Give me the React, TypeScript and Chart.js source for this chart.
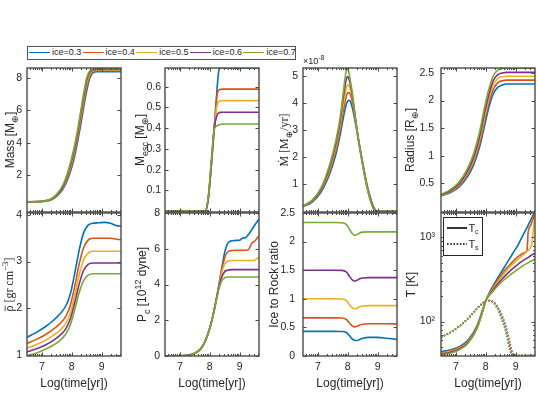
import React, { useEffect, useRef } from 'react';
import { Chart, registerables } from 'chart.js';

Chart.register(...registerables);

const SANS = "'Liberation Sans', Arial, Helvetica, sans-serif";
const SERIF = "'Liberation Serif', 'DejaVu Serif', 'Times New Roman', serif";
const INK = '#262626';
const AXIS = '#4a4a4a';
const COLORS = ['#0072BD', '#D95319', '#EDB120', '#7E2F8E', '#77AC30'];
const ICE_LABELS = ['ice=0.3', 'ice=0.4', 'ice=0.5', 'ice=0.6', 'ice=0.7'];
const LOGT_TICKS = [7, 8, 9];
const LOGT_TICK_LABELS = ['7', '8', '9'];
const LOGT_MIN = 6.5;
const LOGT_MAX = 9.65;

// ---- Mass [M_earth]
const MASS_X = [6.5, 7.0, 7.3, 7.5, 7.7, 7.85, 8.0, 8.1, 8.2, 8.3, 8.4, 8.5, 8.6, 8.7, 8.85, 9.65];
const MASS_03 = [0.35, 0.39, 0.49, 0.72, 1.15, 1.7, 2.5, 3.2, 4.1, 5.1, 6.2, 7.2, 7.95, 8.3, 8.38, 8.38];
const MASS_04 = [0.36, 0.4, 0.5, 0.75, 1.2, 1.8, 2.65, 3.4, 4.3, 5.35, 6.45, 7.45, 8.1, 8.37, 8.43, 8.43];
const MASS_05 = [0.37, 0.4, 0.52, 0.78, 1.25, 1.9, 2.8, 3.55, 4.5, 5.55, 6.65, 7.65, 8.22, 8.42, 8.47, 8.47];
const MASS_06 = [0.37, 0.41, 0.53, 0.8, 1.3, 2.0, 2.95, 3.7, 4.65, 5.75, 6.85, 7.85, 8.33, 8.47, 8.51, 8.51];
const MASS_07 = [0.38, 0.42, 0.55, 0.85, 1.4, 2.1, 3.1, 3.9, 4.85, 5.95, 7.05, 8.0, 8.42, 8.52, 8.55, 8.55];
const MASS_TICKS = [2, 4, 6, 8];

// ---- M_esc [M_earth]
const MESC_X = [6.5, 7.5, 7.85, 7.95, 8.05, 8.15, 8.25, 8.3, 8.35, 8.45, 9.65];
const MESC_03 = [0, 0, 0, 0.06, 0.22, 0.4, 0.6, 0.675, 0.69, 0.69, 0.69];
const MESC_04 = [0, 0, 0, 0.06, 0.22, 0.4, 0.565, 0.582, 0.587, 0.588, 0.588];
const MESC_05 = [0, 0, 0, 0.06, 0.22, 0.4, 0.515, 0.528, 0.532, 0.533, 0.533];
const MESC_06 = [0, 0, 0, 0.06, 0.22, 0.4, 0.465, 0.473, 0.476, 0.477, 0.477];
const MESC_07 = [0, 0, 0, 0.07, 0.24, 0.395, 0.412, 0.416, 0.418, 0.42, 0.42];
const MESC_TICKS = [0.1, 0.2, 0.3, 0.4, 0.5, 0.6];

// ---- Mdot [1e-8 M_earth / yr]
const MDOT_X = [6.5, 6.8, 7.1, 7.4, 7.6, 7.75, 7.85, 7.95, 8.0, 8.05, 8.15, 8.25, 8.35, 8.5, 8.65, 8.8, 8.9, 9.0, 9.65];
const MDOT_03 = [0.17, 0.33, 0.7, 1.4, 2.1, 2.85, 3.45, 3.95, 4.08, 4.1, 3.85, 3.3, 2.7, 1.8, 0.95, 0.35, 0.08, 0, 0];
const MDOT_04 = [0.18, 0.35, 0.75, 1.5, 2.25, 3.05, 3.7, 4.25, 4.38, 4.38, 4.05, 3.4, 2.7, 1.77, 0.92, 0.32, 0.06, 0, 0];
const MDOT_05 = [0.19, 0.37, 0.78, 1.58, 2.38, 3.22, 3.95, 4.55, 4.68, 4.62, 4.2, 3.45, 2.7, 1.75, 0.9, 0.3, 0.05, 0, 0];
const MDOT_06 = [0.19, 0.38, 0.8, 1.66, 2.5, 3.38, 4.2, 4.88, 4.98, 4.85, 4.3, 3.5, 2.7, 1.72, 0.87, 0.28, 0.04, 0, 0];
const MDOT_07 = [0.2, 0.4, 0.85, 1.75, 2.6, 3.5, 4.4, 5.2, 5.27, 5.05, 4.4, 3.5, 2.7, 1.7, 0.85, 0.25, 0.02, 0, 0];
const MDOT_TICKS = [1, 2, 3, 4, 5];

// ---- Radius [R_earth]
const RAD_X = [6.5, 6.8, 7.1, 7.4, 7.6, 7.8, 7.95, 8.1, 8.25, 8.4, 8.55, 8.7, 8.85, 9.0, 9.65];
const RAD_03 = [0.27, 0.33, 0.43, 0.63, 0.84, 1.17, 1.52, 1.87, 2.12, 2.24, 2.28, 2.3, 2.3, 2.3, 2.3];
const RAD_04 = [0.28, 0.34, 0.45, 0.67, 0.89, 1.24, 1.6, 1.95, 2.2, 2.32, 2.36, 2.37, 2.37, 2.37, 2.37];
const RAD_05 = [0.28, 0.35, 0.47, 0.7, 0.93, 1.3, 1.68, 2.02, 2.28, 2.4, 2.43, 2.44, 2.44, 2.44, 2.44];
const RAD_06 = [0.29, 0.36, 0.49, 0.73, 0.98, 1.37, 1.76, 2.1, 2.36, 2.47, 2.5, 2.51, 2.51, 2.51, 2.51];
const RAD_07 = [0.3, 0.38, 0.52, 0.78, 1.05, 1.45, 1.85, 2.2, 2.45, 2.55, 2.58, 2.585, 2.585, 2.585, 2.585];
const RAD_TICKS = [0.5, 1, 1.5, 2, 2.5];

// ---- mean density [gr cm^-3]
const RHO_X = [6.5, 6.8, 7.1, 7.4, 7.6, 7.8, 7.95, 8.1, 8.25, 8.4, 8.55, 8.7, 8.9, 9.1, 9.3, 9.5, 9.65];
const RHO_03 = [1.38, 1.48, 1.6, 1.75, 1.88, 2.05, 2.3, 2.75, 3.25, 3.62, 3.78, 3.82, 3.83, 3.84, 3.82, 3.77, 3.76];
const RHO_04 = [1.25, 1.33, 1.43, 1.56, 1.67, 1.83, 2.06, 2.47, 2.95, 3.3, 3.46, 3.5, 3.5, 3.5, 3.5, 3.48, 3.47];
const RHO_05 = [1.15, 1.22, 1.31, 1.43, 1.53, 1.68, 1.9, 2.28, 2.72, 3.04, 3.18, 3.22, 3.22, 3.22, 3.22, 3.22, 3.22];
const RHO_06 = [1.07, 1.13, 1.21, 1.32, 1.42, 1.56, 1.77, 2.12, 2.52, 2.82, 2.94, 2.97, 2.97, 2.97, 2.97, 2.97, 2.97];
const RHO_07 = [0.99, 1.04, 1.12, 1.22, 1.31, 1.45, 1.64, 1.97, 2.34, 2.6, 2.71, 2.74, 2.74, 2.74, 2.74, 2.74, 2.74];
const RHO_TICKS = [1, 2, 3, 4];

// ---- P_c [1e12 dyne]
const PC_X = [6.5, 7.0, 7.3, 7.5, 7.7, 7.85, 8.0, 8.1, 8.2, 8.3, 8.4, 8.5, 8.6, 8.75, 8.9, 9.0, 9.1, 9.2, 9.3, 9.4, 9.5, 9.6, 9.65];
const PC_03 = [0, 0.01, 0.05, 0.15, 0.4, 0.85, 1.55, 2.2, 3.0, 3.9, 4.9, 5.8, 6.3, 6.45, 6.47, 6.48, 6.6, 6.62, 6.8, 7.05, 7.3, 7.55, 7.68];
const PC_04 = [0, 0.01, 0.05, 0.15, 0.4, 0.85, 1.55, 2.2, 3.0, 3.9, 4.8, 5.5, 5.82, 5.9, 5.92, 5.92, 5.92, 5.92, 5.95, 6.3, 6.42, 6.62, 6.72];
const PC_05 = [0, 0.01, 0.05, 0.15, 0.4, 0.85, 1.55, 2.2, 3.0, 3.85, 4.65, 5.15, 5.3, 5.34, 5.34, 5.34, 5.34, 5.34, 5.34, 5.34, 5.36, 5.47, 5.5];
const PC_06 = [0, 0.01, 0.05, 0.15, 0.4, 0.85, 1.55, 2.2, 3.0, 3.8, 4.4, 4.72, 4.8, 4.83, 4.83, 4.83, 4.83, 4.83, 4.83, 4.83, 4.83, 4.83, 4.83];
const PC_07 = [0, 0.01, 0.05, 0.15, 0.4, 0.85, 1.55, 2.2, 2.95, 3.7, 4.2, 4.38, 4.42, 4.42, 4.42, 4.42, 4.42, 4.42, 4.42, 4.42, 4.42, 4.42, 4.42];
const PC_TICKS = [0, 2, 4, 6, 8];

// ---- Ice to Rock ratio
const IR_X = [6.5, 7.5, 7.8, 7.95, 8.05, 8.15, 8.22, 8.3, 8.4, 8.5, 8.7, 9.0, 9.3, 9.65];
const IR_03 = [0.43, 0.43, 0.428, 0.41, 0.36, 0.3, 0.275, 0.27, 0.29, 0.31, 0.325, 0.325, 0.31, 0.29];
const IR_04 = [0.667, 0.667, 0.664, 0.64, 0.58, 0.525, 0.51, 0.515, 0.54, 0.555, 0.565, 0.565, 0.565, 0.56];
const IR_05 = [1.0, 1.0, 0.997, 0.97, 0.9, 0.84, 0.825, 0.835, 0.86, 0.875, 0.88, 0.88, 0.88, 0.88];
const IR_06 = [1.5, 1.5, 1.497, 1.47, 1.4, 1.33, 1.31, 1.32, 1.35, 1.365, 1.37, 1.37, 1.37, 1.37];
const IR_07 = [2.333, 2.333, 2.33, 2.3, 2.22, 2.14, 2.11, 2.12, 2.15, 2.165, 2.17, 2.17, 2.17, 2.17];
const IR_TICKS = [0, 0.5, 1, 1.5, 2, 2.5];

// ---- Temperatures [K]: T_c (solid) and T_s (dotted)
const TC_X = [6.5, 6.8, 7.1, 7.4, 7.7, 7.9, 8.0, 8.2, 8.4, 8.6, 8.8, 9.0, 9.05, 9.2, 9.3, 9.38, 9.42, 9.5, 9.55, 9.6, 9.65];
const TC_03 = [44, 46, 50, 60, 88, 140, 178, 250, 330, 430, 560, 730, 775, 985, 1157, 1300, 1390, 1597, 1730, 1877, 1980];
const TC_04 = [43, 45, 49, 58, 86, 138, 177, 240, 310, 390, 470, 560, 580, 630, 660, 690, 1150, 1380, 1540, 1720, 1900];
const TC_05 = [42, 44, 48, 57, 84, 136, 177, 232, 295, 365, 445, 520, 540, 600, 640, 680, 700, 760, 850, 1300, 1750];
const TC_06 = [41, 43, 47, 56, 83, 135, 177, 225, 280, 335, 395, 455, 470, 515, 545, 565, 575, 605, 620, 635, 645];
const TC_07 = [40, 42, 46, 55, 82, 134, 177, 220, 265, 310, 355, 400, 412, 450, 475, 490, 498, 520, 530, 542, 550];
const TS_X = [6.5, 6.8, 7.1, 7.4, 7.7, 7.9, 8.0, 8.1, 8.25, 8.4, 8.55, 8.7, 8.8, 8.9, 9.0, 9.65];
const TS_03 = [65, 74, 87, 108, 142, 166, 175, 178, 172, 150, 117, 82, 58, 42, 39.6, 39.6];
const TS_04 = [65, 74, 87, 108, 142, 166, 175, 178, 171, 147, 113, 78, 55, 41, 39.6, 39.6];
const TS_05 = [65, 74, 87, 108, 142, 166, 175, 178, 170, 145, 110, 75, 52, 40, 39.6, 39.6];
const TS_06 = [65, 74, 87, 108, 142, 166, 175, 177, 169, 142, 106, 71, 49, 39.6, 39.6, 39.6];
const TS_07 = [65, 74, 87, 108, 142, 166, 175, 177, 168, 140, 103, 68, 46, 39.6, 39.6, 39.6];
const T_TICKS = [100, 1000];
const T_TICK_LABELS = ['10²', '10³'];
const T_MINOR = [40, 50, 60, 70, 80, 90, 200, 300, 400, 500, 600, 700, 800, 900];

type Seg = { t: string; sub?: boolean; sup?: boolean; bar?: boolean };

type Panel = {
  col: number;
  row: number;
  x: number[];
  series: number[][];
  dotX?: number[];
  dotSeries?: number[][];
  log?: boolean;
  yMin: number;
  yMax: number;
  yTicks: number[];
  yLabels?: string[];
  title: Seg[];
  family: string;
  gap: number;
  pad: number;
  extra?: 'mdot' | 'tlegend';
};

const COL_LEFT = [27, 165, 303, 441];
const PLOT_W = 94;
const ROW_TOP = [68, 213];
const ROW_H = [144, 143];
const PAD_L = 45;
const PAD_T = 22;
const PAD_R = 8;
const PAD_B = 45;
const TITLE_SIZE = 12;

const PANELS: Panel[] = [
  { col: 0, row: 0, x: MASS_X, series: [MASS_03, MASS_04, MASS_05, MASS_06, MASS_07], yMin: -0.25, yMax: 8.6, yTicks: MASS_TICKS,
    title: [{ t: 'Mass [M' }, { t: '⊕', sub: true }, { t: ']' }], family: SANS, gap: 17, pad: 5 },
  { col: 1, row: 0, x: MESC_X, series: [MESC_03, MESC_04, MESC_05, MESC_06, MESC_07], yMin: -0.004, yMax: 0.69, yTicks: MESC_TICKS,
    title: [{ t: 'M' }, { t: 'esc', sub: true }, { t: ' [M' }, { t: '⊕', sub: true }, { t: ']' }], family: SANS, gap: 25, pad: 4 },
  { col: 2, row: 0, x: MDOT_X, series: [MDOT_03, MDOT_04, MDOT_05, MDOT_06, MDOT_07], yMin: -0.03, yMax: 5.3, yTicks: MDOT_TICKS,
    title: [{ t: 'Ṁ [M' }, { t: '⊕', sub: true }, { t: '/yr]' }], family: SERIF, gap: 19, pad: 5, extra: 'mdot' },
  { col: 3, row: 0, x: RAD_X, series: [RAD_03, RAD_04, RAD_05, RAD_06, RAD_07], yMin: -0.02, yMax: 2.59, yTicks: RAD_TICKS,
    title: [{ t: 'Radius [R' }, { t: '⊕', sub: true }, { t: ']' }], family: SANS, gap: 31, pad: 7 },
  { col: 0, row: 1, x: RHO_X, series: [RHO_03, RHO_04, RHO_05, RHO_06, RHO_07], yMin: 0.98, yMax: 4.04, yTicks: RHO_TICKS,
    title: [{ t: 'ρ', bar: true }, { t: ' [gr cm' }, { t: '−3', sup: true }, { t: ']' }], family: SERIF, gap: 18, pad: 5 },
  { col: 1, row: 1, x: PC_X, series: [PC_03, PC_04, PC_05, PC_06, PC_07], yMin: 0, yMax: 8, yTicks: PC_TICKS,
    title: [{ t: 'P' }, { t: 'c', sub: true }, { t: ' [10' }, { t: '12', sup: true }, { t: ' dyne]' }], family: SANS, gap: 23, pad: 5 },
  { col: 2, row: 1, x: IR_X, series: [IR_03, IR_04, IR_05, IR_06, IR_07], yMin: 0, yMax: 2.5, yTicks: IR_TICKS,
    title: [{ t: 'Ice to Rock ratio' }], family: SANS, gap: 29, pad: 8 },
  { col: 3, row: 1, x: TC_X, series: [TC_03, TC_04, TC_05, TC_06, TC_07], dotX: TS_X, dotSeries: [TS_03, TS_04, TS_05, TS_06, TS_07],
    log: true, yMin: 39, yMax: 1950, yTicks: T_TICKS, yLabels: T_TICK_LABELS,
    title: [{ t: 'T [K]' }], family: SANS, gap: 30, pad: 6, extra: 'tlegend' },
];

function drawRich(ctx: CanvasRenderingContext2D, segs: Seg[], cx: number, cy: number, size: number, family: string, rotate: boolean) {
  ctx.save();
  ctx.translate(cx, cy);
  if (rotate) ctx.rotate(-Math.PI / 2);
  const small = Math.round(size * 0.72);
  const fontOf = (s: Seg) => `${s.sub || s.sup ? small : size}px ${family}`;
  const widths = segs.map((s) => {
    ctx.font = fontOf(s);
    return ctx.measureText(s.t).width;
  });
  const total = widths.reduce((a, b) => a + b, 0);
  let x = -total / 2;
  const base = size * 0.36;
  ctx.textAlign = 'left';
  ctx.textBaseline = 'alphabetic';
  ctx.fillStyle = INK;
  segs.forEach((s, i) => {
    ctx.font = fontOf(s);
    const dy = s.sub ? size * 0.3 : s.sup ? -size * 0.42 : 0;
    ctx.fillText(s.t, x, base + dy);
    if (s.bar) {
      ctx.strokeStyle = INK;
      ctx.lineWidth = 0.8;
      ctx.beginPath();
      ctx.moveTo(x + 0.5, base - size * 0.68);
      ctx.lineTo(x + widths[i] - 0.2, base - size * 0.68);
      ctx.stroke();
    }
    x += widths[i];
  });
  ctx.restore();
}

function makePlugin(p: Panel) {
  return {
    id: 'matlabAxes' + p.col + p.row,
    afterDraw(chart: any) {
      const ctx: CanvasRenderingContext2D = chart.ctx;
      const a = chart.chartArea;
      const xs = chart.scales.x;
      const ys = chart.scales.y;
      ctx.save();
      ctx.strokeStyle = AXIS;
      ctx.lineWidth = 1;
      const seg = (x1: number, y1: number, x2: number, y2: number) => {
        ctx.beginPath();
        ctx.moveTo(x1, y1);
        ctx.lineTo(x2, y2);
        ctx.stroke();
      };
      for (const v of LOGT_TICKS) {
        const px = Math.round(xs.getPixelForValue(v)) + 0.5;
        seg(px, a.bottom, px, a.bottom - 3.5);
        seg(px, a.top, px, a.top + 3.5);
      }
      for (let n = 6; n <= 9; n++) {
        for (let k = 2; k <= 9; k++) {
          const v = n + Math.log10(k);
          if (v <= LOGT_MIN || v >= LOGT_MAX) continue;
          const px = Math.round(xs.getPixelForValue(v)) + 0.5;
          seg(px, a.bottom, px, a.bottom - 2);
          seg(px, a.top, px, a.top + 2);
        }
      }
      for (const v of p.yTicks) {
        const py = Math.round(ys.getPixelForValue(v)) + 0.5;
        seg(a.left, py, a.left + 3.5, py);
        seg(a.right, py, a.right - 3.5, py);
      }
      if (p.log) {
        for (const v of T_MINOR) {
          const py = Math.round(ys.getPixelForValue(v)) + 0.5;
          seg(a.left, py, a.left + 2, py);
          seg(a.right, py, a.right - 2, py);
        }
      }
      ctx.strokeStyle = AXIS;
      ctx.lineWidth = 1.4;
      ctx.strokeRect(a.left, a.top, a.right - a.left, a.bottom - a.top);

      drawRich(ctx, p.title, a.left - p.gap, (a.top + a.bottom) / 2, TITLE_SIZE, p.family, true);
      if (p.row === 1) {
        drawRich(ctx, [{ t: 'Log(time[yr])' }], (a.left + a.right) / 2, a.bottom + 27, TITLE_SIZE, SANS, false);
      }
      if (p.extra === 'mdot') {
        ctx.fillStyle = INK;
        ctx.textAlign = 'left';
        ctx.textBaseline = 'middle';
        ctx.font = `9px ${SANS}`;
        ctx.fillText('×10', a.left, a.top - 6);
        const w = ctx.measureText('×10').width;
        ctx.font = `7px ${SANS}`;
        ctx.fillText('-8', a.left + w, a.top - 10);
      }
      if (p.extra === 'tlegend') {
        const bx = a.left + 2;
        const by = a.top + 4;
        ctx.fillStyle = '#ffffff';
        ctx.fillRect(bx, by, 39, 38);
        ctx.strokeStyle = INK;
        ctx.lineWidth = 1;
        ctx.strokeRect(bx + 0.5, by + 0.5, 39, 38);
        ctx.strokeStyle = '#000';
        ctx.lineWidth = 1.6;
        seg(bx + 4, by + 11, bx + 24, by + 11);
        ctx.setLineDash([1.6, 1.6]);
        seg(bx + 4, by + 27, bx + 24, by + 27);
        ctx.setLineDash([]);
        ctx.fillStyle = INK;
        ctx.textAlign = 'left';
        ctx.textBaseline = 'alphabetic';
        ctx.font = `11px ${SANS}`;
        ctx.fillText('T', bx + 25.5, by + 14.5);
        ctx.fillText('T', bx + 25.5, by + 30.5);
        ctx.font = `7px ${SANS}`;
        ctx.fillText('c', bx + 32, by + 17);
        ctx.fillText('s', bx + 32, by + 33);
      }
      ctx.restore();
    },
  };
}

function buildChart(canvas: HTMLCanvasElement, p: Panel) {
  const datasets: any[] = p.series.map((s, k) => ({
    label: ICE_LABELS[k],
    data: p.x.map((xv, j) => ({ x: xv, y: s[j] })),
    borderColor: COLORS[k],
    backgroundColor: COLORS[k],
    borderWidth: 1.6,
    pointRadius: 0,
    fill: false,
    cubicInterpolationMode: 'monotone',
    order: 10 - k,
  }));
  if (p.dotX && p.dotSeries) {
    p.dotSeries.forEach((s, k) => {
      datasets.push({
        label: ICE_LABELS[k] + ' Ts',
        data: p.dotX!.map((xv, j) => ({ x: xv, y: s[j] })),
        borderColor: COLORS[k],
        backgroundColor: COLORS[k],
        borderWidth: 1.6,
        borderDash: [1.6, 1.6],
        pointRadius: 0,
        fill: false,
        cubicInterpolationMode: 'monotone',
        order: 5 - k,
      });
    });
  }
  const labels = p.yLabels || p.yTicks.map((v) => String(v));
  return new Chart(canvas, {
    type: 'line',
    data: { datasets },
    options: {
      animation: false,
      responsive: false,
      devicePixelRatio: 1,
      layout: { padding: { left: 0, top: PAD_T, right: PAD_R, bottom: 0 } },
      plugins: { legend: { display: false }, tooltip: { enabled: false }, title: { display: false } },
      scales: {
        x: {
          type: 'linear',
          min: LOGT_MIN,
          max: LOGT_MAX,
          bounds: 'data',
          grid: { display: false, drawTicks: false },
          border: { display: false },
          ticks: {
            display: p.row === 1,
            padding: 5,
            autoSkip: false,
            maxRotation: 0,
            font: { family: SANS, size: 10.5 },
            color: INK,
            callback: (v: any) => {
              const i = LOGT_TICKS.indexOf(Number(v));
              return i >= 0 ? LOGT_TICK_LABELS[i] : '';
            },
          },
          afterBuildTicks: (s: any) => {
            s.ticks = LOGT_TICKS.map((v) => ({ value: v }));
          },
          afterFit: (s: any) => {
            s.height = PAD_B;
          },
        },
        y: {
          type: p.log ? 'logarithmic' : 'linear',
          min: p.yMin,
          max: p.yMax,
          bounds: 'data',
          grid: { display: false, drawTicks: false },
          border: { display: false },
          ticks: {
            padding: p.pad,
            autoSkip: false,
            font: { family: SANS, size: 10.5 },
            color: INK,
            callback: (v: any) => {
              const i = p.yTicks.findIndex((t) => Math.abs(t - Number(v)) < 1e-9);
              return i >= 0 ? labels[i] : '';
            },
          },
          afterBuildTicks: (s: any) => {
            s.ticks = p.yTicks.map((v) => ({ value: v }));
          },
          afterFit: (s: any) => {
            s.width = PAD_L;
          },
        },
      },
    } as any,
    plugins: [makePlugin(p)],
  });
}

export default function App() {
  const refs = useRef<(HTMLCanvasElement | null)[]>([]);
  useEffect(() => {
    const charts = PANELS.map((p, i) => buildChart(refs.current[i]!, p));
    return () => charts.forEach((c) => c.destroy());
  }, []);

  return (
    <div style={{ position: 'absolute', left: 0, top: 0, width: 538, height: 397, overflow: 'hidden', background: '#fff' }}>
      {PANELS.map((p, i) => {
        const w = PLOT_W + PAD_L + PAD_R;
        const h = ROW_H[p.row] + PAD_T + PAD_B;
        return (
          <canvas
            key={i}
            ref={(el) => {
              refs.current[i] = el;
            }}
            width={w}
            height={h}
            style={{ position: 'absolute', left: COL_LEFT[p.col] - PAD_L, top: ROW_TOP[p.row] - PAD_T, width: w, height: h }}
          />
        );
      })}
      <div
        style={{
          position: 'absolute',
          left: 27,
          top: 46,
          width: 269,
          height: 14,
          boxSizing: 'border-box',
          border: '1.5px solid #555',
          background: '#fff',
          fontFamily: SANS,
          fontSize: 9,
          color: INK,
        }}
      >
        {ICE_LABELS.map((lab, k) => (
          <div key={k} style={{ position: 'absolute', left: 1 + k * 53.6, top: 0, height: 11, display: 'flex', alignItems: 'center', whiteSpace: 'nowrap' }}>
            <span style={{ display: 'inline-block', width: 21, height: 0, borderTop: `1.6px solid ${COLORS[k]}`, marginRight: 2 }} />
            <span style={{ lineHeight: '11px' }}>{lab}</span>
          </div>
        ))}
      </div>
    </div>
  );
}
